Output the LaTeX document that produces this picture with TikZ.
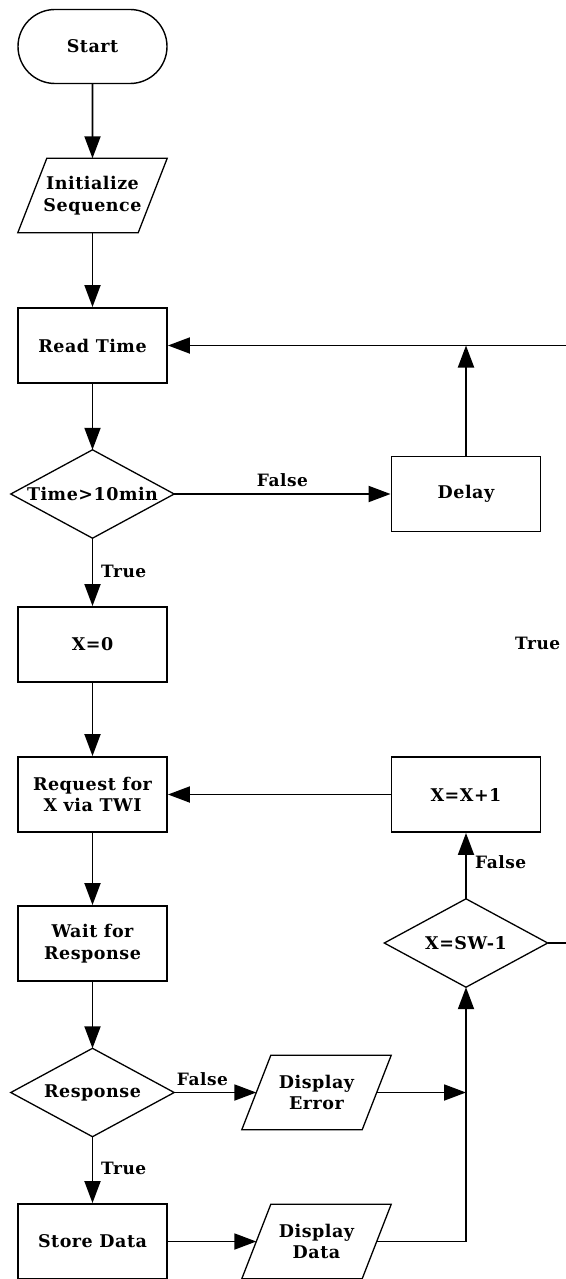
\documentclass[tikz,border=0pt]{standalone}
\usepackage{fontspec}
\setmainfont{DejaVu Serif}[LetterSpace=3]
\usetikzlibrary{arrows.meta,shapes.misc}
\begin{document}
\begin{tikzpicture}[x=1pt,y=-1pt,
 every node/.style={font=\fontsize{17.5}{21.5}\selectfont\bfseries, inner sep=0pt},
 term/.style={rounded rectangle, draw, line width=1.4pt, minimum width=149pt, minimum height=74pt},
 procbox/.style={rectangle, draw, line width=1.9pt, minimum width=149pt, minimum height=75pt, align=center},
 iobox/.style={rectangle, minimum width=120pt, minimum height=74pt, align=center},
 decbox/.style={rectangle, minimum width=163pt, minimum height=88pt, align=center},
 lbl/.style={font=\fontsize{17}{21}\selectfont\bfseries},
 conn/.style={line width=1.9pt, -{Triangle[length=22pt,width=16pt]}},
 plain/.style={line width=1.9pt},
 outline/.style={line width=1.3pt, line join=miter},
]
\useasboundingbox (0,0) rectangle (565,1279);
\node[term] (start) at (92.5,46.5) {Start};
\node[iobox] (init) at (92.5,195.5) {Initialize\\Sequence};
\node[procbox] (readtime) at (92.5,345.5) {Read Time};
\node[decbox] (dec1) at (92.5,494) {Time>10min};
\node[procbox] (delay) at (466,494) {Delay};
\node[procbox] (x0) at (92.5,644.5) {X=0};
\node[procbox] (request) at (92.5,794.5) {Request for\\X via TWI};
\node[procbox] (xinc) at (466,794.5) {X=X+1};
\node[procbox] (wait) at (92.5,943.5) {Wait for\\Response};
\node[decbox] (dec2) at (466,943) {X=SW-1};
\node[decbox] (dec3) at (92.5,1092.5) {Response};
\node[iobox] (derr) at (316.5,1092.5) {Display\\Error};
\node[procbox] (store) at (92.5,1241.5) {Store Data};
\node[iobox] (ddata) at (316.5,1241.5) {Display\\Data};
\coordinate (edgeA) at (567,0);

\foreach \n in {init,derr,ddata}
  \draw[outline] ([xshift=14.5pt]\n.north west) -- ([xshift=14.5pt]\n.north east)
     -- ([xshift=-14.5pt]\n.south east) -- ([xshift=-14.5pt]\n.south west) -- cycle;
\foreach \n in {dec1,dec2,dec3}
  \draw[outline] (\n.north) -- (\n.east) -- (\n.south) -- (\n.west) -- cycle;

\draw[conn] (start) -- (init);
\draw[conn] (init) -- (readtime);
\draw[conn] (readtime) -- (dec1.north);
\draw[conn] (dec1.east) -- node[lbl, above=6pt] (lf1) {False} (delay.west);
\draw[conn] (delay.north) -- (delay.north |- readtime.east);
\draw[conn] (edgeA |- readtime.east) -- (readtime.east);
\draw[conn] (dec1.south) -- (x0.north);
\node[lbl, anchor=west] (lt1) at (101,571) {True};
\draw[conn] (x0) -- (request);
\draw[conn] (xinc.west) -- (request.east);
\node[lbl, anchor=west] (ltr) at (515,643) {True};
\draw[conn] (request) -- (wait);
\draw[conn] (wait.south) -- (dec3.north);
\draw[conn] (dec2.north) -- (xinc.south);
\node[lbl, anchor=west] (lfr) at (475,862) {False};
\draw[plain] (dec2.east) -- (dec2.east -| edgeA);
\draw[conn] (dec3.east) -- (derr.west);
\node[lbl] (lf3) at (202.5,1079) {False};
\draw[conn] (dec3.south) -- (store.north);
\node[lbl, anchor=west] (lt3) at (101,1168) {True};
\draw[conn] (store.east) -- (ddata.west);
\draw[conn] (derr.east) -- (derr.east -| dec2.south);
\draw[conn] (ddata.east) -| (dec2.south);
\end{tikzpicture}
\end{document}
